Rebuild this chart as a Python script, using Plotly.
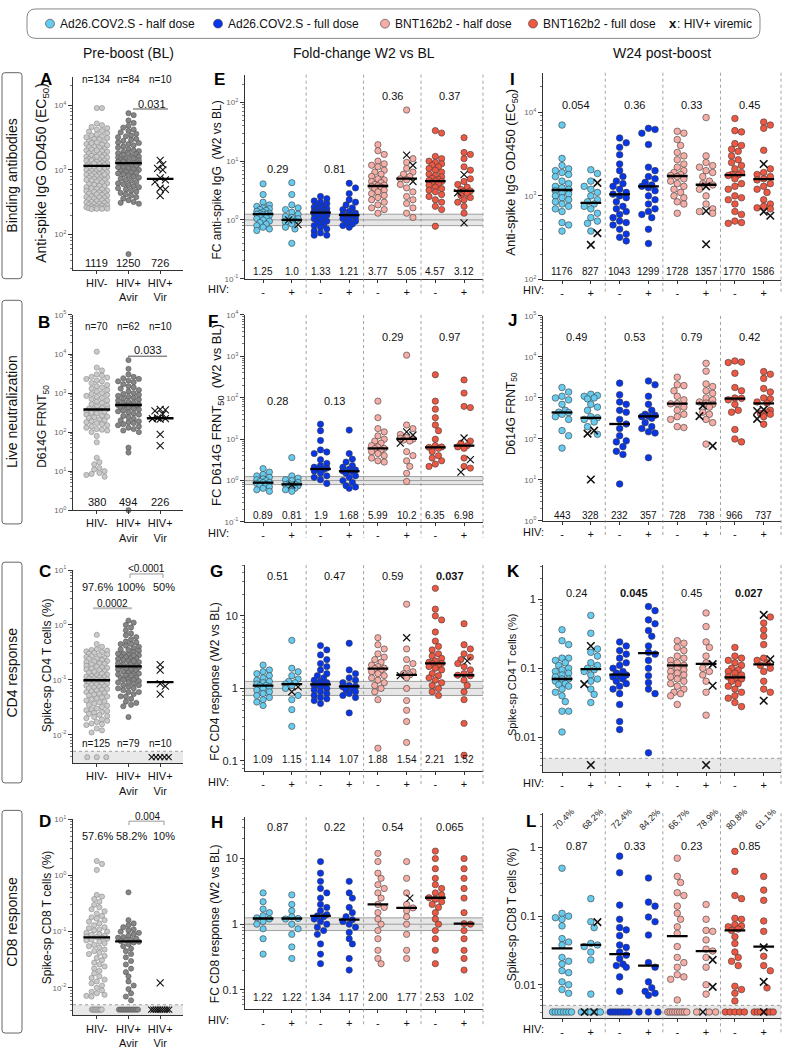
import math
import plotly.graph_objects as go

W, H = 785, 1049
FONT = "Liberation Sans, Arial, Helvetica, sans-serif"

# ---------------------------------------------------------------- colours
LBLUE = "#66CBEF"; BLUE = "#0736EA"; PINK = "#F5ADA5"; RED = "#EE5843"
GREY_L = "#CACACA"; GREY_D = "#868686"
GROUP_COLORS = [LBLUE, LBLUE, BLUE, BLUE, PINK, PINK, RED, RED]

# ---------------------------------------------------------------- text
LEGEND_LABELS = ["Ad26.COV2.S - half dose", "Ad26.COV2.S - full dose",
                 "BNT162b2 - half dose", "BNT162b2 - full dose"]
LEGEND_VIR = ": HIV+ viremic"
COL_TITLES = ["Pre-boost (BL)", "Fold-change W2 vs BL", "W24 post-boost"]
ROW_TITLES = ["Binding antibodies", "Live neutralization", "CD4 response", "CD8 response"]
COL1_LABELS = ["HIV-", "HIV+<br>Avir", "HIV+<br>Vir"]
HIV_LABELS = ["-", "+", "-", "+", "-", "+", "-", "+"]

# ---------------------------------------------------------------- A: anti-spike IgG, baseline
A_hiv_neg = [9000, 9000, 5200, 4900, 4600, 4400, 4200, 4000, 3900, 3700, 3500, 3400, 3300, 3100,
             3000, 2950, 2800, 2700, 2650, 2500, 2450, 2400, 2300, 2250, 2200, 2100, 2050, 2000,
             1950, 1900, 1850, 1800, 1760, 1700, 1650, 1600, 1580, 1550, 1500, 1470, 1430, 1400,
             1380, 1340, 1300, 1270, 1250, 1220, 1200, 1180, 1150, 1130, 1120, 1100, 1080, 1050,
             1020, 1000, 990, 960, 940, 920, 900, 880, 860, 840, 820, 800, 790, 770, 750, 730,
             710, 700, 680, 660, 640, 620, 610, 590, 570, 560, 540, 520, 510, 500, 480, 470, 460,
             450, 440, 430, 420, 410, 400, 390, 380, 375, 370, 360, 350, 340, 335, 330, 320, 315,
             310, 300, 295, 290, 285, 280, 275, 270, 265, 262, 260, 258, 255, 252, 250, 250, 248,
             1400, 1600, 2000, 2600, 3200, 700, 850, 1050, 1250]
A_hiv_avir = [7500, 7000, 5800, 5300, 4800, 4500, 4200, 4000, 3800, 3600, 3400, 3200, 3000, 2900,
              2800, 2650, 2500, 2400, 2300, 2200, 2100, 2000, 1950, 1900, 1800, 1750, 1700, 1650,
              1600, 1550, 1500, 1450, 1400, 1370, 1330, 1300, 1270, 1250, 1230, 1200, 1150, 1100,
              1060, 1020, 1000, 970, 940, 910, 880, 850, 820, 790, 760, 730, 700, 680, 650, 620,
              600, 580, 560, 540, 520, 500, 480, 460, 440, 420, 400, 380, 360, 340, 320, 310, 300,
              1500, 1800, 2600, 3300, 900, 1100, 1350, 50]
A_hiv_vir = [1400, 1200, 1050, 1000, 750, 700, 650, 520, 500, 400]
A_n = ["n=134", "n=84", "n=10"]
A_median = [1150, 1270, 726]
A_median_txt = ["1119", "1250", "726"]
A_p = "0.031"

# ---------------------------------------------------------------- B: live neutralization, baseline
B_hiv_neg = [11500, 4500, 3800, 3000, 2800, 2600, 2500, 2300, 2100, 2000, 1800, 1600, 1500, 1400,
             1300, 1200, 1100, 1000, 950, 900, 850, 800, 750, 700, 650, 600, 560, 520, 480, 450,
             420, 400, 390, 380, 370, 350, 330, 310, 300, 280, 260, 250, 240, 230, 210, 200, 190,
             180, 170, 160, 150, 140, 130, 120, 115, 110, 100, 80, 55, 22, 17, 15, 12, 11, 10, 9,
             8.5, 8, 7.2]
B_hiv_avir = [7000, 4200, 3000, 2600, 2400, 2300, 2100, 2000, 1900, 1700, 1500, 1400, 1300, 1200,
              1100, 1000, 950, 900, 850, 800, 760, 720, 680, 640, 600, 570, 540, 510, 495, 490,
              480, 460, 440, 420, 400, 380, 360, 340, 320, 300, 280, 260, 240, 220, 200, 190, 180,
              170, 160, 150, 140, 130, 120, 110, 100, 40, 30, 1]
B_hiv_vir = [380, 370, 350, 290, 230, 222, 220, 215, 88, 45]
B_n = ["n=70", "n=62", "n=10"]
B_median = [380, 494, 226]
B_median_txt = ["380", "494", "226"]
B_p = "0.033"

# ---------------------------------------------------------------- C: CD4 baseline (%)
C_hiv_neg = [0.66, 0.45, 0.4, 0.36, 0.35, 0.34, 0.33, 0.32, 0.31, 0.3, 0.29, 0.28, 0.27, 0.26,
             0.25, 0.245, 0.24, 0.23, 0.22, 0.215, 0.21, 0.2, 0.195, 0.19, 0.18, 0.175, 0.17, 0.165,
             0.16, 0.155, 0.15, 0.145, 0.14, 0.135, 0.13, 0.125, 0.12, 0.118, 0.115, 0.112, 0.11,
             0.107, 0.105, 0.102, 0.1, 0.1, 0.098, 0.096, 0.094, 0.092, 0.09, 0.088, 0.086, 0.084,
             0.082, 0.08, 0.078, 0.076, 0.074, 0.072, 0.07, 0.068, 0.066, 0.064, 0.062, 0.06, 0.058,
             0.056, 0.054, 0.052, 0.05, 0.048, 0.046, 0.044, 0.042, 0.04, 0.039, 0.037, 0.035,
             0.034, 0.032, 0.03, 0.029, 0.028, 0.027, 0.026, 0.025, 0.024, 0.023, 0.022, 0.021,
             0.02, 0.019, 0.018, 0.017, 0.016, 0.0155, 0.015, 0.013, 0.012, 0.011]
C_hiv_avir = [1.2, 1.1, 1.0, 0.9, 0.8, 0.7, 0.65, 0.6, 0.55, 0.5, 0.48, 0.45, 0.42, 0.4, 0.38,
              0.36, 0.34, 0.32, 0.3, 0.29, 0.28, 0.27, 0.26, 0.25, 0.24, 0.23, 0.22, 0.21, 0.2,
              0.19, 0.185, 0.18, 0.175, 0.17, 0.16, 0.155, 0.15, 0.14, 0.135, 0.13, 0.125, 0.12,
              0.11, 0.105, 0.1, 0.095, 0.09, 0.085, 0.08, 0.075, 0.07, 0.065, 0.06, 0.055, 0.05,
              0.045, 0.04, 0.038, 0.035, 0.033, 0.021, 0.3, 0.2, 0.15, 0.12, 0.09, 0.06, 0.25, 0.35,
              0.45, 0.11, 0.07, 0.17, 0.22, 0.28, 0.13, 0.1, 0.08, 0.05]
C_hiv_vir = [0.19, 0.15, 0.085, 0.077, 0.055]
C_band_n = [3, 0, 5]          # non-responders drawn in the grey band
C_n = ["n=125", "n=79", "n=10"]
C_pct = ["97.6%", "100%", "50%"]
C_median = [0.098, 0.176, 0.091]
C_p1 = "0.0002"
C_p2 = "<0.0001"

# ---------------------------------------------------------------- D: CD8 baseline (%)
D_hiv_neg = [1.8, 1.6, 1.25, 0.45, 0.42, 0.38, 0.34, 0.3, 0.27, 0.25, 0.23, 0.21, 0.19, 0.18,
             0.17, 0.16, 0.15, 0.14, 0.13, 0.12, 0.115, 0.11, 0.105, 0.1, 0.095, 0.09, 0.088,
             0.085, 0.082, 0.08, 0.078, 0.075, 0.072, 0.07, 0.066, 0.062, 0.058, 0.055, 0.052,
             0.048, 0.045, 0.042, 0.04, 0.037, 0.034, 0.031, 0.028, 0.026, 0.024, 0.022, 0.02,
             0.018, 0.016, 0.015, 0.014, 0.013, 0.012, 0.011, 0.01, 0.009, 0.0085, 0.008, 0.0075,
             0.0072, 0.007]
D_hiv_avir = [0.5, 0.16, 0.14, 0.13, 0.12, 0.11, 0.105, 0.1, 0.095, 0.09, 0.085, 0.08, 0.078,
              0.075, 0.072, 0.07, 0.068, 0.066, 0.064, 0.06, 0.055, 0.05, 0.045, 0.04, 0.035, 0.03,
              0.026, 0.022, 0.019, 0.016, 0.013, 0.011, 0.0095, 0.008, 0.007, 0.006]
D_hiv_vir = [0.0123]
D_band_n = [12, 12, 9]
D_pct = ["57.6%", "58.2%", "10%"]
D_median = [0.079, 0.067, None]
D_p = "0.004"

# ---------------------------------------------------------------- E: FC anti-spike IgG W2 vs BL
E_pts = [
    [4.1, 2.7, 2.0, 1.8, 1.7, 1.6, 1.55, 1.5, 1.45, 1.4, 1.35, 1.3, 1.28, 1.25, 1.25, 1.22, 1.2,
     1.15, 1.1, 1.05, 1.0, 0.95, 0.9, 0.85, 0.8, 0.75, 0.7, 0.66],
    [4.3, 2.7, 1.8, 1.6, 1.5, 1.35, 1.25, 1.15, 1.1, 1.05, 0.95, 0.9, 0.85, 0.75, 0.7, 0.4],
    [2.5, 2.3, 2.1, 2.0, 1.9, 1.8, 1.7, 1.65, 1.6, 1.55, 1.5, 1.45, 1.4, 1.38, 1.35, 1.33, 1.3,
     1.28, 1.25, 1.2, 1.15, 1.1, 1.05, 1.0, 0.95, 0.9, 0.85, 0.8, 0.75, 0.7, 0.65, 0.6, 0.55, 0.55],
    [4.2, 3.5, 2.8, 2.2, 2.0, 1.8, 1.6, 1.5, 1.4, 1.3, 1.25, 1.22, 1.2, 1.15, 1.1, 1.05, 1.0, 0.95,
     0.9, 0.85, 0.8, 0.75],
    [19, 15, 13, 10, 9, 8.5, 8, 7, 6.5, 6, 5.5, 5, 4.8, 4.5, 4.3, 4.0, 3.9, 3.8, 3.7, 3.6, 3.4,
     3.2, 3.0, 2.8, 2.6, 2.4, 2.2, 2.0, 1.8, 1.6, 1.5, 1.3],
    [74, 11, 9.5, 7.5, 6.5, 6, 5.5, 5, 4.8, 4, 3.5, 3, 2.5, 2.2, 1.9, 1.6, 1.3, 1.1],
    [33, 30, 12, 11, 10, 9.5, 9, 8.5, 8, 7.5, 7, 6.5, 6, 5.7, 5.4, 5.1, 4.9, 4.7, 4.6, 4.5, 4.3,
     4.1, 3.9, 3.6, 3.4, 3.2, 3.0, 2.7, 2.5, 2.2, 2.0, 1.7, 1.5, 0.78],
    [25, 14, 13, 11, 8, 7, 5, 4.5, 4, 3.6, 3.3, 3.1, 3.0, 2.8, 2.6, 2.4, 2.2, 2.0, 1.7, 1.3],
]
E_vir = [[], [1.0, 0.83], [], [], [], [12.6, 8.5, 4.5], [], [5.9, 2.9, 0.89]]
E_median = [1.25, 1.0, 1.33, 1.21, 3.77, 5.05, 4.57, 3.12]
E_median_txt = ["1.25", "1.0", "1.33", "1.21", "3.77", "5.05", "4.57", "3.12"]
E_p = ["0.29", "0.81", "0.36", "0.37"]

# ---------------------------------------------------------------- F: FC D614G FRNT50 W2 vs BL
F_pts = [
    [1.95, 1.6, 1.4, 1.3, 1.2, 1.1, 1.05, 1.0, 0.95, 0.9, 0.89, 0.85, 0.8, 0.75, 0.7, 0.65, 0.6, 0.55],
    [3.6, 1.3, 1.15, 1.05, 1.0, 0.9, 0.85, 0.82, 0.8, 0.75, 0.7, 0.65, 0.6, 0.55],
    [23, 16, 9.3, 5.5, 4.9, 4.5, 3.2, 2.6, 2.3, 2.1, 2.0, 1.9, 1.85, 1.7, 1.5, 1.3, 1.2, 1.05, 0.85],
    [16.6, 4.5, 3.3, 2.8, 2.3, 2.1, 1.9, 1.8, 1.7, 1.65, 1.5, 1.3, 1.2, 1.0, 0.9, 0.75, 0.7, 0.65],
    [83, 33, 18, 15, 12, 10, 9, 8, 7, 6.5, 6, 5.9, 5.5, 5, 4.5, 4, 3.5, 3, 2.8],
    [1070, 22, 18, 13, 11, 10.5, 10, 9.5, 9, 5, 4, 3, 2.2, 1.5, 0.95],
    [360, 83, 53, 33, 22, 16, 10, 7, 6.5, 6.35, 6, 5, 4, 3.5, 3, 2.5, 2.2],
    [270, 130, 62, 58, 9, 8, 7, 6.5, 6, 3.5, 2.2, 2.0],
]
F_vir = [[], [0.78], [], [], [], [15, 12.6, 8], [], [10.7, 3.2, 1.6]]
F_median = [0.89, 0.81, 1.9, 1.68, 5.99, 10.2, 6.35, 6.98]
F_median_txt = ["0.89", "0.81", "1.9", "1.68", "5.99", "10.2", "6.35", "6.98"]
F_p = ["0.28", "0.13", "0.29", "0.97"]

# ---------------------------------------------------------------- G: FC CD4 response W2 vs BL
G_pts = [
    [2.1, 1.8, 1.7, 1.6, 1.5, 1.4, 1.3, 1.25, 1.2, 1.15, 1.1, 1.09, 1.05, 1.0, 0.95, 0.9, 0.85,
     0.8, 0.75, 0.7, 0.65, 0.58],
    [4.6, 1.9, 1.7, 1.5, 1.35, 1.25, 1.2, 1.15, 1.1, 1.0, 0.8, 0.7, 0.51, 0.3],
    [3.9, 3.4, 2.9, 2.5, 2.2, 2.0, 1.8, 1.6, 1.5, 1.4, 1.3, 1.25, 1.2, 1.15, 1.14, 1.1, 1.05, 1.0,
     0.95, 0.9, 0.85, 0.8, 0.75, 0.72, 0.68, 0.62],
    [4.2, 1.8, 1.6, 1.4, 1.3, 1.2, 1.1, 1.07, 1.05, 1.0, 0.95, 0.9, 0.85, 0.8, 0.75, 0.46],
    [5.0, 4.0, 3.5, 3.0, 2.7, 2.5, 2.3, 2.1, 2.0, 1.9, 1.88, 1.8, 1.7, 1.6, 1.5, 1.4, 1.3, 1.2,
     1.1, 1.0, 0.9, 0.7, 0.15],
    [14.5, 3.5, 2.5, 2.2, 1.9, 1.7, 1.6, 1.54, 1.4, 1.0, 0.68, 0.5, 0.35, 0.18],
    [24, 12.4, 10, 8.8, 6, 4.5, 3.8, 3.4, 3.0, 2.8, 2.6, 2.4, 2.3, 2.21, 2.2, 2.1, 2.0, 1.9, 1.8,
     1.6, 1.5, 1.4, 1.3, 1.2, 1.1, 1.0, 0.9, 0.8],
    [7.8, 4.0, 3.5, 3.0, 2.7, 2.5, 2.2, 2.0, 1.8, 1.6, 1.52, 1.5, 1.3, 1.1, 0.9, 0.7, 0.33, 0.12],
]
G_vir = [[], [1.05, 0.9], [], [], [], [5.0, 1.5], [], [2.4]]
G_median = [1.09, 1.15, 1.14, 1.07, 1.88, 1.54, 2.21, 1.52]
G_median_txt = ["1.09", "1.15", "1.14", "1.07", "1.88", "1.54", "2.21", "1.52"]
G_p = ["0.51", "0.47", "0.59", "<b>0.037</b>"]

# ---------------------------------------------------------------- H: FC CD8 response W2 vs BL
H_pts = [
    [3.0, 2.2, 1.7, 1.5, 1.35, 1.25, 1.2, 1.1, 1.0, 0.85, 0.6, 0.35],
    [2.8, 2.0, 1.6, 1.3, 1.22, 1.2, 1.0, 0.85, 0.7, 0.45, 0.3],
    [9.0, 6.0, 4.5, 3.5, 3.0, 2.5, 2.0, 1.8, 1.6, 1.4, 1.34, 1.3, 1.2, 1.1, 1.0, 0.9, 0.8, 0.7,
     0.5, 0.35, 0.25],
    [4.5, 3.0, 2.5, 1.8, 1.5, 1.3, 1.17, 1.1, 1.0, 0.9, 0.75, 0.6, 0.5, 0.3, 0.2],
    [12, 9, 6, 5, 4, 3.5, 3, 2.5, 2.0, 1.8, 1.5, 1.2, 1.0, 0.8, 0.6, 0.4, 0.3, 0.25],
    [9, 5, 3, 2.0, 1.77, 1.6, 1.3, 1.0, 0.7, 0.4, 0.3],
    [13, 10, 7, 5, 4, 3.5, 3.0, 2.8, 2.53, 2.4, 2.2, 2.0, 1.8, 1.5, 1.2, 1.0, 0.8, 0.6, 0.4, 0.25],
    [10, 7, 5, 3.5, 2.5, 1.5, 1.02, 1.0, 0.8, 0.6, 0.4, 0.3, 0.2],
]
H_vir = [[], [], [], [], [], [2.5], [], []]
H_median = [1.22, 1.22, 1.34, 1.17, 2.00, 1.77, 2.53, 1.02]
H_median_txt = ["1.22", "1.22", "1.34", "1.17", "2.00", "1.77", "2.53", "1.02"]
H_p = ["0.87", "0.22", "0.54", "0.065"]

# ---------------------------------------------------------------- I: anti-spike IgG W24
I_pts = [
    [7000, 2800, 2300, 2100, 2000, 1900, 1800, 1700, 1500, 1400, 1300, 1250, 1200, 1150, 1100,
     1050, 1000, 950, 900, 850, 800, 750, 700, 650, 480, 450, 380],
    [2050, 1850, 1500, 1300, 1200, 1100, 1000, 900, 850, 800, 750, 700, 620, 550, 500, 470, 380],
    [4900, 4300, 3800, 3100, 2400, 2000, 1700, 1500, 1400, 1300, 1200, 1100, 1050, 1000, 950, 850,
     750, 700, 650, 600, 550, 500, 480, 450, 400, 350, 320, 290],
    [6400, 6200, 5600, 4100, 2200, 2000, 1700, 1600, 1450, 1350, 1300, 1250, 1150, 1000, 900, 800,
     700, 650, 600, 550, 400, 270],
    [5900, 5600, 4700, 4000, 3300, 3000, 2700, 2400, 2200, 2000, 1900, 1800, 1750, 1700, 1600,
     1500, 1400, 1300, 1200, 1100, 1000, 950, 850, 800, 620],
    [8600, 3000, 2500, 2300, 2200, 2000, 1900, 1700, 1500, 1400, 1350, 1200, 1000, 800, 700, 650, 620],
    [8400, 6000, 5800, 4200, 4000, 3600, 3400, 3000, 2700, 2500, 2300, 2100, 1900, 1800, 1780,
     1750, 1600, 1400, 1300, 1200, 1000, 950, 900, 800, 650, 600, 500, 480, 470],
    [7600, 7000, 6400, 3500, 2100, 1900, 1800, 1700, 1600, 1550, 1400, 1300, 1200, 1100, 900, 800,
     750, 720, 700],
]
I_vir = [[], [1430, 360, 260], [], [], [], [1300, 660, 265], [], [2400, 650, 580]]
I_median = [1176, 827, 1043, 1299, 1728, 1357, 1770, 1586]
I_median_txt = ["1176", "827", "1043", "1299", "1728", "1357", "1770", "1586"]
I_p = ["0.054", "0.36", "0.33", "0.45"]

# ---------------------------------------------------------------- J: D614G FRNT50 W24
J_pts = [
    [1800, 1400, 1100, 1000, 900, 700, 500, 450, 440, 400, 350, 300, 160, 120, 60],
    [1230, 1150, 1100, 1000, 950, 700, 600, 500, 350, 330, 300, 260, 200, 130],
    [2300, 1200, 800, 700, 500, 450, 300, 232, 180, 120, 90, 85, 65, 50, 42, 8],
    [2600, 2100, 1100, 700, 500, 400, 380, 360, 350, 320, 250, 200, 180, 150, 140, 35],
    [3200, 2100, 2000, 1500, 1100, 900, 730, 720, 600, 500, 400, 350, 300, 200, 190],
    [7000, 4500, 2200, 1900, 1500, 1300, 1000, 900, 800, 750, 700, 600, 450, 400, 300, 250, 75],
    [8000, 7500, 7300, 4000, 1800, 1500, 1000, 980, 900, 700, 500, 450, 170, 100, 85],
    [4400, 3800, 3000, 1700, 1400, 1000, 950, 800, 750, 500, 450, 420, 400, 350, 230],
]
J_vir = [[], [160, 135, 10.3], [], [], [], [650, 360, 68], [], [520, 480, 310]]
J_median = [443, 328, 232, 357, 728, 738, 966, 737]
J_median_txt = ["443", "328", "232", "357", "728", "738", "966", "737"]
J_p = ["0.49", "0.53", "0.79", "0.42"]

# ---------------------------------------------------------------- K: CD4 W24 (%)
K_pts = [
    [0.36, 0.25, 0.22, 0.14, 0.14, 0.13, 0.12, 0.11, 0.1, 0.095, 0.09, 0.085, 0.08, 0.075, 0.07,
     0.07, 0.065, 0.06, 0.058, 0.055, 0.05, 0.045, 0.04, 0.033, 0.024, 0.024, 0.012],
    [0.58, 0.32, 0.19, 0.17, 0.15, 0.12, 0.11, 0.1, 0.095, 0.09, 0.08, 0.07, 0.065, 0.05, 0.042, 0.032],
    [0.24, 0.21, 0.18, 0.16, 0.14, 0.12, 0.11, 0.1, 0.09, 0.085, 0.08, 0.078, 0.075, 0.07, 0.065,
     0.06, 0.055, 0.05, 0.043, 0.03, 0.017, 0.013],
    [0.78, 0.68, 0.5, 0.44, 0.35, 0.29, 0.21, 0.17, 0.16, 0.13, 0.1, 0.078, 0.062, 0.05, 0.043, 0.006],
    [0.25, 0.23, 0.2, 0.18, 0.15, 0.14, 0.13, 0.12, 0.11, 0.11, 0.1, 0.095, 0.09, 0.085, 0.08,
     0.075, 0.07, 0.065, 0.06, 0.055, 0.05, 0.045, 0.043, 0.04, 0.03],
    [0.63, 0.4, 0.24, 0.2, 0.15, 0.12, 0.1, 0.09, 0.08, 0.065, 0.045, 0.021],
    [0.2, 0.15, 0.14, 0.13, 0.12, 0.11, 0.1, 0.095, 0.09, 0.085, 0.08, 0.075, 0.072, 0.07, 0.065,
     0.06, 0.055, 0.05, 0.045, 0.04, 0.037, 0.032, 0.028],
    [0.55, 0.45, 0.36, 0.29, 0.22, 0.14, 0.13, 0.12, 0.11, 0.1, 0.09, 0.065, 0.05, 0.045],
]
K_vir = [[], [0.21, 0.059], [], [], [], [0.115, 0.056], [], [0.59, 0.135, 0.034]]
K_band_x = [0, 1, 0, 0, 0, 1, 0, 0]
K_median = [0.07, 0.097, 0.081, 0.166, 0.11, 0.116, 0.074, 0.114]
K_p = ["0.24", "<b>0.045</b>", "0.45", "<b>0.027</b>"]

# ---------------------------------------------------------------- L: CD8 W24 (%)
L_pts = [
    [0.5, 0.11, 0.1, 0.095, 0.09, 0.072, 0.047, 0.042, 0.038, 0.025, 0.022, 0.02, 0.016, 0.015,
     0.011, 0.01, 0.0085, 0.0075],
    [0.18, 0.083, 0.068, 0.04, 0.038, 0.036, 0.03, 0.023, 0.0073],
    [0.75, 0.43, 0.145, 0.09, 0.068, 0.063, 0.052, 0.038, 0.035, 0.03, 0.027, 0.024, 0.02, 0.019,
     0.018, 0.013, 0.008],
    [0.36, 0.16, 0.14, 0.097, 0.083, 0.053, 0.021, 0.018, 0.011, 0.009, 0.008, 0.0075, 0.007],
    [0.7, 0.38, 0.31, 0.22, 0.2, 0.14, 0.11, 0.09, 0.07, 0.056, 0.036, 0.025, 0.021, 0.018, 0.014,
     0.013, 0.012, 0.006],
    [0.148, 0.09, 0.062, 0.06, 0.045, 0.033, 0.031, 0.025, 0.018, 0.01, 0.0073],
    [0.88, 0.45, 0.2, 0.18, 0.093, 0.09, 0.075, 0.072, 0.07, 0.065, 0.062, 0.05, 0.04, 0.03,
     0.025, 0.022, 0.019, 0.0095, 0.0085, 0.0075, 0.0058],
    [0.38, 0.24, 0.17, 0.085, 0.06, 0.026, 0.019, 0.016, 0.009],
]
L_vir = [[], [0.082], [], [], [], [0.023, 0.0093], [], [0.035, 0.011]]
L_band_n = [8, 7, 8, 3, 9, 4, 5, 7]
L_band_x = [0, 2, 0, 0, 0, 1, 0, 1]
L_pct = ["70.4%", "68.2%", "72.4%", "84.2%", "66.7%", "78.9%", "80.8%", "61.1%"]
L_median = [0.034, 0.038, 0.028, 0.019, 0.051, 0.031, 0.062, 0.036]
L_p = ["0.87", "0.33", "0.23", "0.85"]

# ================================================================ helpers
fig = go.Figure()
shapes, annos, axes = [], [], {}


def fx(x):
    return x / W


def fy(y):
    return 1 - y / H


def T(x, y, text, size=11, color="#111", angle=0, xanchor="center", yanchor="middle"):
    annos.append(dict(x=fx(x), y=fy(y), xref="paper", yref="paper", text=text, showarrow=False,
                      textangle=angle, xanchor=xanchor, yanchor=yanchor,
                      font=dict(family=FONT, size=size, color=color)))


def Ln(x0, y0, x1, y1, color="#333", width=1, dash=None, layer="above"):
    ln = dict(color=color, width=width)
    if dash:
        ln["dash"] = dash
    shapes.append(dict(type="line", xref="paper", yref="paper", x0=fx(x0), y0=fy(y0),
                       x1=fx(x1), y1=fy(y1), line=ln, layer=layer))


def Rect(x0, y0, x1, y1, fill):
    shapes.append(dict(type="rect", xref="paper", yref="paper", x0=fx(x0), y0=fy(y1), x1=fx(x1),
                       y1=fy(y0), fillcolor=fill, line=dict(width=0), layer="below"))


def Rounded(x0, y0, x1, y1, r, color="#555", width=1):
    def P(x, y):
        return "%.5f,%.5f" % (fx(x), fy(y))
    path = ("M " + P(x0 + r, y0) + " L " + P(x1 - r, y0) + " Q " + P(x1, y0) + " " + P(x1, y0 + r) +
            " L " + P(x1, y1 - r) + " Q " + P(x1, y1) + " " + P(x1 - r, y1) +
            " L " + P(x0 + r, y1) + " Q " + P(x0, y1) + " " + P(x0, y1 - r) +
            " L " + P(x0, y0 + r) + " Q " + P(x0, y0) + " " + P(x0 + r, y0) + " Z")
    shapes.append(dict(type="path", xref="paper", yref="paper", path=path,
                       line=dict(color=color, width=width), fillcolor="rgba(0,0,0,0)"))


COLS = {0: dict(x0=73, x1=183, r=(-0.75, 2.72), half=11, size=5.2),
        1: dict(x0=245, x1=483, r=(-0.63, 7.66), half=9, size=6.3),
        2: dict(x0=543, x1=781, r=(-0.66, 7.6), half=9.5, size=6.6)}


class Panel:
    def __init__(self, k, col, top, bot, yr):
        self.k, self.col, self.top, self.bot, self.yr = k, col, top, bot, yr
        c = COLS[col]
        self.x0, self.x1, self.r = c["x0"], c["x1"], c["r"]
        self.half, self.size = c["half"], c["size"]
        self.xpu = (self.x1 - self.x0) / (self.r[1] - self.r[0])
        self.ypd = (bot - top) / (yr[1] - yr[0])
        self.xid = "x" if k == 1 else "x%d" % k
        self.yid = "y" if k == 1 else "y%d" % k

    def px(self, pos):
        return self.x0 + (pos - self.r[0]) * self.xpu

    def py(self, v):
        return self.top + (self.yr[1] - math.log10(v)) * self.ypd


def pow_text(vals):
    return ["10<sup>%d</sup>" % round(math.log10(v)) for v in vals]


def make_axes(p, tickvals, ticktext, tfont, xlabels):
    xa = dict(domain=[fx(p.x0), fx(p.x1)], range=list(p.r), anchor=p.yid, showline=True,
              linecolor="#333", linewidth=1, ticks="outside", ticklen=3, tickwidth=1, tickcolor="#333",
              tickmode="array", tickvals=list(range(len(xlabels))), ticktext=xlabels,
              tickfont=dict(family=FONT, size=11, color="#111"), showgrid=False, zeroline=False,
              fixedrange=True)
    lo, hi = math.floor(p.yr[0]), math.ceil(p.yr[1])
    minor_vals = [m * 10 ** e for e in range(lo, hi + 1) for m in range(2, 10)
                  if p.yr[0] <= math.log10(m * 10 ** e) <= p.yr[1]]
    ya = dict(domain=[fy(p.bot), fy(p.top)], type="log", range=list(p.yr), anchor=p.xid,
              showline=True, linecolor="#333", linewidth=1, ticks="outside", ticklen=4,
              tickcolor="#333", tickmode="array", tickvals=tickvals, ticktext=ticktext,
              tickfont=tfont, showgrid=False, zeroline=False, fixedrange=True,
              minor=dict(ticks="outside", ticklen=2, tickcolor="#777", tickwidth=0.6,
                         tickmode="array", tickvals=minor_vals, showgrid=False))
    key = "" if p.k == 1 else str(p.k)
    axes["xaxis" + key] = xa
    axes["yaxis" + key] = ya


def swarm(ys, d, half):
    n = len(ys)
    order = sorted(range(n), key=lambda i: ys[i])
    step = d * 0.5
    cands = [0.0]
    k = 1
    while k * step <= half + 1e-9:
        cands += [k * step, -k * step]
        k += 1
    placed, out = [], [0.0] * n
    for i in order:
        y = ys[i]
        best, bestd = 0.0, -1.0
        for c in cands:
            md = 1e9
            for (qx, qy) in placed:
                dy = abs(qy - y)
                if dy < d:
                    md = min(md, math.hypot(qx - c, dy))
            if md >= d * 0.95:
                best = c
                break
            if md > bestd:
                best, bestd = c, md
        placed.append((best, y))
        out[i] = best
    return out


def scat(p, xs, ys, marker):
    fig.add_trace(go.Scatter(x=xs, y=ys, mode="markers", marker=marker, xaxis=p.xid, yaxis=p.yid,
                             showlegend=False, hoverinfo="skip", cliponaxis=False))


def xmarker(size, width):
    return dict(symbol="x-thin", size=size, color="#111", line=dict(color="#111", width=width))


def draw_group(p, pos, circ, xs, fill, edge, half=None, xsize=7, xw=1.3):
    half = p.half if half is None else half
    d = p.size
    ys = [p.py(v) for v in circ + xs]
    offs = swarm(ys, d, half)
    cx = [pos + o / p.xpu for o in offs[:len(circ)]]
    xx = [pos + o / p.xpu for o in offs[len(circ):]]
    if circ:
        scat(p, cx, circ, dict(color=fill, size=d, line=dict(color=edge, width=0.6)))
    if xs:
        scat(p, xx, xs, xmarker(xsize, xw))


def band_row(p, pos, n_c, n_x, value, fill, edge, span=18, xsize=7, xw=1.3):
    n = n_c + n_x
    if n == 0:
        return
    sp = 0 if n == 1 else min(9.5, span / (n - 1))
    offs = [(i - (n - 1) / 2) * sp for i in range(n)]
    xi = set(round((j + 1) * n / (n_x + 1)) - 1 for j in range(n_x)) if n_x else set()
    if n_c and n_x and len(xi) < n_x:
        xi = set(range(n - n_x, n))
    if not n_c:
        xi = set(range(n))
    cx = [pos + offs[i] / p.xpu for i in range(n) if i not in xi]
    xx = [pos + offs[i] / p.xpu for i in range(n) if i in xi]
    if cx:
        scat(p, cx, [value] * len(cx), dict(color=fill, size=p.size, line=dict(color=edge, width=0.6)))
    if xx:
        scat(p, xx, [value] * len(xx), xmarker(xsize, xw))


def medians(p, vals, hw, width=2.3):
    xs, ys = [], []
    for pos, v in enumerate(vals):
        if v is None:
            continue
        xs += [pos - hw, pos + hw, None]
        ys += [v, v, None]
    fig.add_trace(go.Scatter(x=xs, y=ys, mode="lines", line=dict(color="black", width=width),
                             xaxis=p.xid, yaxis=p.yid, showlegend=False, hoverinfo="skip",
                             cliponaxis=False))


EXP_FONT = dict(family=FONT, size=8, color="#666")
DEC_FONT = dict(family=FONT, size=11, color="#222")

# ================================================================ column 1
def col1_panel(k, top, bot, yr, tickvals, neg, avir, vir, med, band_n=None, band_v=None, spans=(19, 19, 17)):
    p = Panel(k, 0, top, bot, yr)
    make_axes(p, tickvals, pow_text(tickvals), EXP_FONT, COL1_LABELS)
    if band_n is not None:
        ylim = p.py(0.005)
        Rect(p.x0, ylim, p.x1, bot, "#E9E9E9")
        Ln(p.x0, ylim, p.x1, ylim, color="#888", width=0.8, dash="dot")
        band_row(p, 0, band_n[0], 0, band_v, GREY_L, "#888", span=spans[0])
        band_row(p, 1, band_n[1], 0, band_v, GREY_D, "#555", span=spans[1])
        band_row(p, 2, 0, band_n[2], band_v, None, None, span=spans[2], xsize=6, xw=1.1)
    draw_group(p, 0, neg, [], GREY_L, "#8a8a8a")
    draw_group(p, 1, avir, [], GREY_D, "#555")
    draw_group(p, 2, [], vir, None, None, half=9, xsize=7, xw=1.1)
    medians(p, med, 0.42, 2.4)
    return p


pA = col1_panel(1, 72, 269, (1.455, 4.44), [1e2, 1e3, 1e4], A_hiv_neg, A_hiv_avir, A_hiv_vir, A_median)
pB = col1_panel(4, 315, 514, (0, 5), [1e0, 1e1, 1e2, 1e3, 1e4, 1e5], B_hiv_neg, B_hiv_avir, B_hiv_vir, B_median)
pC = col1_panel(7, 575, 772, (-2.52, 1), [1e-2, 1e-1, 1e0, 1e1], C_hiv_neg, C_hiv_avir, C_hiv_vir,
                C_median, C_band_n, 0.0039)
pD = col1_panel(10, 829, 1029, (-2.49, 1), [1e-2, 1e-1, 1e0, 1e1], D_hiv_neg, D_hiv_avir, D_hiv_vir,
                D_median, D_band_n, 0.0041, spans=(10, 19, 18))

PCT_X = [97, 131, 164]
for i in range(3):
    T(pA.px(i), 75, A_n[i], 10)
    T(pA.px(i), 262, A_median_txt[i], 11)
    T(pB.px(i), 327, B_n[i], 10)
    T(pB.px(i), 506, B_median_txt[i], 11)
    T(PCT_X[i], 592, C_pct[i], 11)
    T(pC.px(i), 752, C_n[i], 10)
    T(PCT_X[i], 846, D_pct[i], 11)

T(152, 100, A_p, 11)
Ln(133, 105, 168, 105, color="#222", width=0.8)
T(148, 351, B_p, 11)
Ln(128, 357, 167, 357, color="#222", width=0.8)
T(146, 573, C_p2, 10)
Ln(130, 579, 163, 579, color="#999", width=1)
Ln(130, 579, 130, 583, color="#999", width=1)
Ln(163, 579, 163, 583, color="#999", width=1)
T(112, 609, C_p1, 10)
Ln(93, 614, 132, 614, color="#BBB", width=2)
T(147, 826, D_p, 10)
Ln(129, 831, 164, 831, color="#999", width=1)
Ln(129, 831, 129, 835, color="#999", width=1)
Ln(164, 831, 164, 835, color="#999", width=1)

# ================================================================ columns 2 and 3
def multi_panel(k, col, top, bot, yr, tickvals, ticktext, tfont, pts, vir, sep_bot,
                fc_band=False, lod_band=False):
    p = Panel(k, col, top, bot, yr)
    make_axes(p, tickvals, ticktext, tfont, HIV_LABELS)
    if fc_band:
        y08, y1, y125 = p.py(0.8), p.py(1.0), p.py(1.25)
        Rect(p.x0, y125, p.x1, y08, "#E6E6E6")
        for yy in (y08, y1, y125):
            Ln(p.x0, yy, p.x1, yy, color="#8C8C8C", width=0.8, layer="below")
    if lod_band:
        ylim = p.py(0.005)
        Rect(p.x0, ylim, p.x1, bot, "#E9E9E9")
        Ln(p.x0, ylim, p.x1, ylim, color="#888", width=0.8, dash="dot")
    for sx in (1.5, 3.5, 5.5, p.r[1]):
        Ln(p.px(sx), top, p.px(sx), sep_bot, color="#8A8A8A", width=0.8, dash="dot")
    for g in range(8):
        draw_group(p, g, pts[g], vir[g], GROUP_COLORS[g], "#3A3A3A",
                   xsize=7.5 if col == 2 else 7, xw=1.6 if col == 2 else 1.2)
    return p


pE = multi_panel(2, 1, 70, 278, (-1, 2.47), [0.1, 1, 10, 100], pow_text([0.1, 1, 10, 100]),
                 EXP_FONT, E_pts, E_vir, 295, fc_band=True)
pI = multi_panel(3, 2, 68, 279, (2, 4.47), [1e2, 1e3, 1e4], pow_text([1e2, 1e3, 1e4]),
                 EXP_FONT, I_pts, I_vir, 294)
pF = multi_panel(5, 1, 315, 526, (-1, 4), [0.1, 1, 10, 100, 1e3, 1e4],
                 pow_text([0.1, 1, 10, 100, 1e3, 1e4]), EXP_FONT, F_pts, F_vir, 542, fc_band=True)
pJ = multi_panel(6, 2, 316, 525, (0, 5), [1, 10, 100, 1e3, 1e4, 1e5],
                 pow_text([1, 10, 100, 1e3, 1e4, 1e5]), EXP_FONT, J_pts, J_vir, 541)
pG = multi_panel(8, 1, 570, 780, (-1.14, 1.7), [0.1, 1, 10], ["0.1", "1", "10"], DEC_FONT,
                 G_pts, G_vir, 794, fc_band=True)
pK = multi_panel(9, 2, 570, 781, (-2.5, 0.49), [0.01, 0.1, 1], ["0.01", "0.1", "1"], DEC_FONT,
                 K_pts, K_vir, 795, lod_band=True)
pH = multi_panel(11, 1, 827, 1023, (-1.3, 1.63), [0.1, 1, 10], ["0.1", "1", "10"], DEC_FONT,
                 H_pts, H_vir, 1040, fc_band=True)
pL = multi_panel(12, 2, 823, 1032, (-2.49, 0.5), [0.01, 0.1, 1], ["0.01", "0.1", "1"], DEC_FONT,
                 L_pts, L_vir, 1047, lod_band=True)

for g in range(8):
    band_row(pK, g, 0, K_band_x[g], 0.004, GROUP_COLORS[g], "#3A3A3A", xsize=7.5, xw=1.6)
    band_row(pL, g, L_band_n[g] - L_band_x[g], L_band_x[g], 0.004, GROUP_COLORS[g], "#3A3A3A",
             span=19, xsize=7, xw=1.5)

for p, med in ((pE, E_median), (pI, I_median), (pF, F_median), (pJ, J_median),
               (pG, G_median), (pK, K_median), (pH, H_median), (pL, L_median)):
    medians(p, med, 0.36, 2.3)

# p-values and medians text
for j in range(4):
    c = 2 * j + 0.5
    T(pE.px(c), 166 if j < 2 else 92, E_p[j], 11)
    T(pI.px(c), 101, I_p[j], 11)
    T(pF.px(c), 403 if j < 2 else 337, F_p[j], 11)
    T(pJ.px(c), 337, J_p[j], 11)
    T(pG.px(c), 581, G_p[j], 11)
    T(pK.px(c), 598, K_p[j], 11)
    T(pH.px(c), 837, H_p[j], 11)
    T(pL.px(c), 856, L_p[j], 11)
for g in range(8):
    T(pE.px(g), 271, E_median_txt[g], 10)
    T(pI.px(g), 271, I_median_txt[g], 10)
    T(pF.px(g), 519, F_median_txt[g], 10)
    T(pJ.px(g), 519, J_median_txt[g], 10)
    T(pG.px(g), 768, G_median_txt[g], 10)
    T(pH.px(g), 1011, H_median_txt[g], 10)
    T(pL.px(g) + 2, 829, L_pct[g], 9, color="#222", angle=-45)

for p in (pE, pF, pG, pH):
    T(218, p.bot + 11, "HIV:", 11)
for p in (pI, pJ, pK, pL):
    T(533, p.bot + 11, "HIV:", 11)

# ================================================================ axis titles
YT = [
    (42, 170, "Anti-spike IgG OD450 (EC<sub>50</sub>)", 14),
    (217, 178, "FC anti-spike IgG  (W2 vs BL)", 12),
    (512, 170, "Anti-spike IgG OD450 (EC<sub>50</sub>)", 13),
    (43, 429, "D614G FRNT<sub>50</sub>", 12),
    (217, 417, "FC D614G FRNT<sub>50</sub>  (W2 vs BL)", 13),
    (512, 416, "D614G FRNT<sub>50</sub>", 12),
    (47, 672, "Spike-sp CD4 T cells (%)", 12),
    (215, 689, "FC CD4 response (W2 vs BL)", 12),
    (512, 682, "Spike-sp CD4 T cells (%)", 11),
    (47, 929, "Spike-sp CD8 T cells (%)", 12),
    (215, 936, "FC CD8 response (W2 vs BL)", 12),
    (512, 926, "Spike-sp CD8 T cells (%)", 12),
]
for x, y, t, s in YT:
    T(x, y, t, s, angle=-90)

LETTERS = [("A", 46, 75), ("E", 219, 75), ("I", 512, 75),
           ("B", 44, 323), ("F", 213, 322), ("J", 512, 321),
           ("C", 45, 577), ("G", 216, 577), ("K", 513, 577),
           ("D", 45, 831), ("H", 217, 832), ("L", 531, 831)]
for t, x, y in LETTERS:
    T(x, y, "<b>%s</b>" % t, 17, color="#000")

# column titles
for x, t in zip((128, 364, 662), COL_TITLES):
    T(x, 48, t, 14)

# row label boxes
for (y0, y1), t in zip(((68, 278), (300, 528), (567, 792), (820, 1047)), ROW_TITLES):
    Rounded(2, y0, 22, y1, 3, color="#666", width=1)
    T(12, (y0 + y1) / 2, t, 14, angle=-90)

# legend
Rounded(27, 3, 760, 33, 9, color="#888", width=1)
for cx, col, lab in zip((50, 218, 385, 533), (LBLUE, BLUE, PINK, RED), LEGEND_LABELS):
    shapes.append(dict(type="circle", xref="paper", yref="paper", x0=fx(cx - 4.5), x1=fx(cx + 4.5),
                       y0=fy(18 + 4.5), y1=fy(18 - 4.5), fillcolor=col,
                       line=dict(color="#3A3A3A", width=0.6)))
    T(cx + 8, 18, lab, 12, xanchor="left")
T(667, 18, "<b>x</b>", 13, xanchor="left")
T(675, 18, LEGEND_VIR, 12, xanchor="left")

fig.update_layout(width=W, height=H, margin=dict(l=0, r=0, t=0, b=0), autosize=False,
                  paper_bgcolor="white", plot_bgcolor="rgba(0,0,0,0)", showlegend=False,
                  font=dict(family=FONT, size=11, color="#111"),
                  shapes=shapes, annotations=annos, **axes)

fig.write_html("out.html", config={"displayModeBar": False},
               post_script="document.body.style.margin='0';document.body.style.overflow='hidden';")
